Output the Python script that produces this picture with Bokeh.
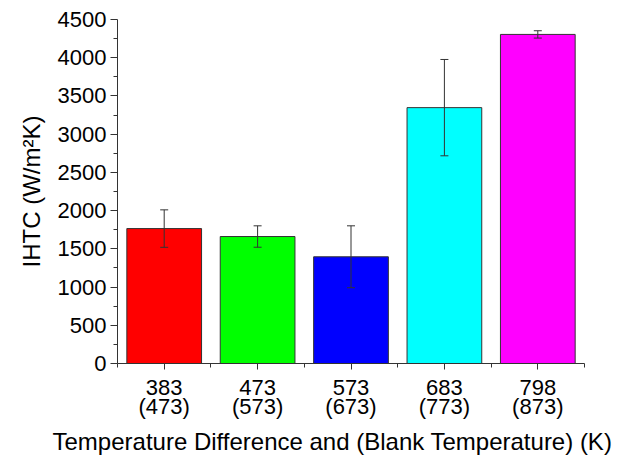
from bokeh.plotting import figure
from bokeh.models import (ColumnDataSource, Whisker, TeeHead, FixedTicker, Range1d,
                          LinearAxis, Title)
from bokeh.embed import file_html
from bokeh.resources import INLINE

temp_diff = ["383", "473", "573", "683", "798"]
blank_temp = ["473", "573", "673", "773", "873"]
ihtc = [1765, 1661, 1396, 3347, 4305]
err = [245, 140, 405, 630, 48]
colors = ["#FF0000", "#00FF00", "#0000FF", "#00FFFF", "#FF00FF"]

xs = list(range(1, len(ihtc) + 1))
src = ColumnDataSource(dict(
    x=xs, top=ihtc, color=colors,
    upper=[v + e for v, e in zip(ihtc, err)],
    lower=[v - e for v, e in zip(ihtc, err)],
))

FONT = "Liberation Sans"
LINE = "#333333"
p = figure(width=612, height=458, output_backend="svg", toolbar_location=None,
           x_range=Range1d(0.5, 5.5), y_range=Range1d(0, 4500),
           min_border_left=117, min_border_right=28, min_border_top=19, min_border_bottom=40)
p.outline_line_color = None
p.grid.visible = False
p.background_fill_color = "white"
p.border_fill_color = "white"

p.vbar(x="x", top="top", width=0.8, bottom=0, fill_color="color",
       line_color=LINE, line_width=1, source=src)

w = Whisker(base="x", upper="upper", lower="lower", source=src,
            line_color=LINE, line_width=1, level="overlay",
            upper_head=TeeHead(size=8, line_color=LINE, line_width=1),
            lower_head=TeeHead(size=8, line_color=LINE, line_width=1))
p.add_layout(w)

# x axis (first line of labels)
p.xaxis.ticker = FixedTicker(ticks=xs, minor_ticks=[x - 0.5 for x in xs] + [xs[-1] + 0.5])
p.xaxis.major_label_overrides = {x: a for x, a in zip(xs, temp_diff)}
p.xaxis.major_label_text_font = FONT
p.xaxis.major_label_text_font_size = "22px"
p.xaxis.major_label_text_color = "black"
p.xaxis.major_label_standoff = 10
p.xaxis.major_tick_out = 6
p.xaxis.major_tick_in = 0
p.xaxis.minor_tick_out = 4
p.xaxis.minor_tick_in = 0
p.xaxis.axis_line_color = LINE
p.xaxis.major_tick_line_color = LINE
p.xaxis.minor_tick_line_color = LINE

# second line of x labels
ax2 = LinearAxis(ticker=FixedTicker(ticks=xs, minor_ticks=[]),
                 major_label_overrides={x: f"({b})" for x, b in zip(xs, blank_temp)},
                 major_label_text_font=FONT, major_label_text_font_size="22px",
                 major_label_text_color="black", major_label_standoff=-4,
                 major_tick_out=0, major_tick_in=0, minor_tick_out=0, minor_tick_in=0,
                 axis_line_color=None, major_tick_line_color=None, minor_tick_line_color=None)
p.add_layout(ax2, "below")

# y axis
p.yaxis.ticker = FixedTicker(ticks=list(range(0, 4501, 500)),
                             minor_ticks=list(range(250, 4500, 500)))
p.yaxis.major_label_text_font = FONT
p.yaxis.major_label_text_font_size = "22px"
p.yaxis.major_label_text_color = "black"
p.yaxis.major_label_standoff = 4
p.yaxis.major_tick_out = 7
p.yaxis.major_tick_in = 0
p.yaxis.minor_tick_out = 4
p.yaxis.minor_tick_in = 0
p.yaxis.axis_line_color = LINE
p.yaxis.major_tick_line_color = LINE
p.yaxis.minor_tick_line_color = LINE
p.yaxis.axis_label = "IHTC (W/m\u00b2K)"
p.yaxis.axis_label_text_font = FONT
p.yaxis.axis_label_text_font_size = "24px"
p.yaxis.axis_label_text_font_style = "normal"
p.yaxis.axis_label_text_color = "black"
p.yaxis.axis_label_standoff = 10

xt = Title(text="Temperature Difference and (Blank Temperature) (K)",
           align="left", offset=-65, text_font=FONT, text_font_size="24px",
           text_font_style="normal", text_color="black", standoff=8)
p.add_layout(xt, "below")

open("out.html", "w").write(file_html(p, INLINE))
